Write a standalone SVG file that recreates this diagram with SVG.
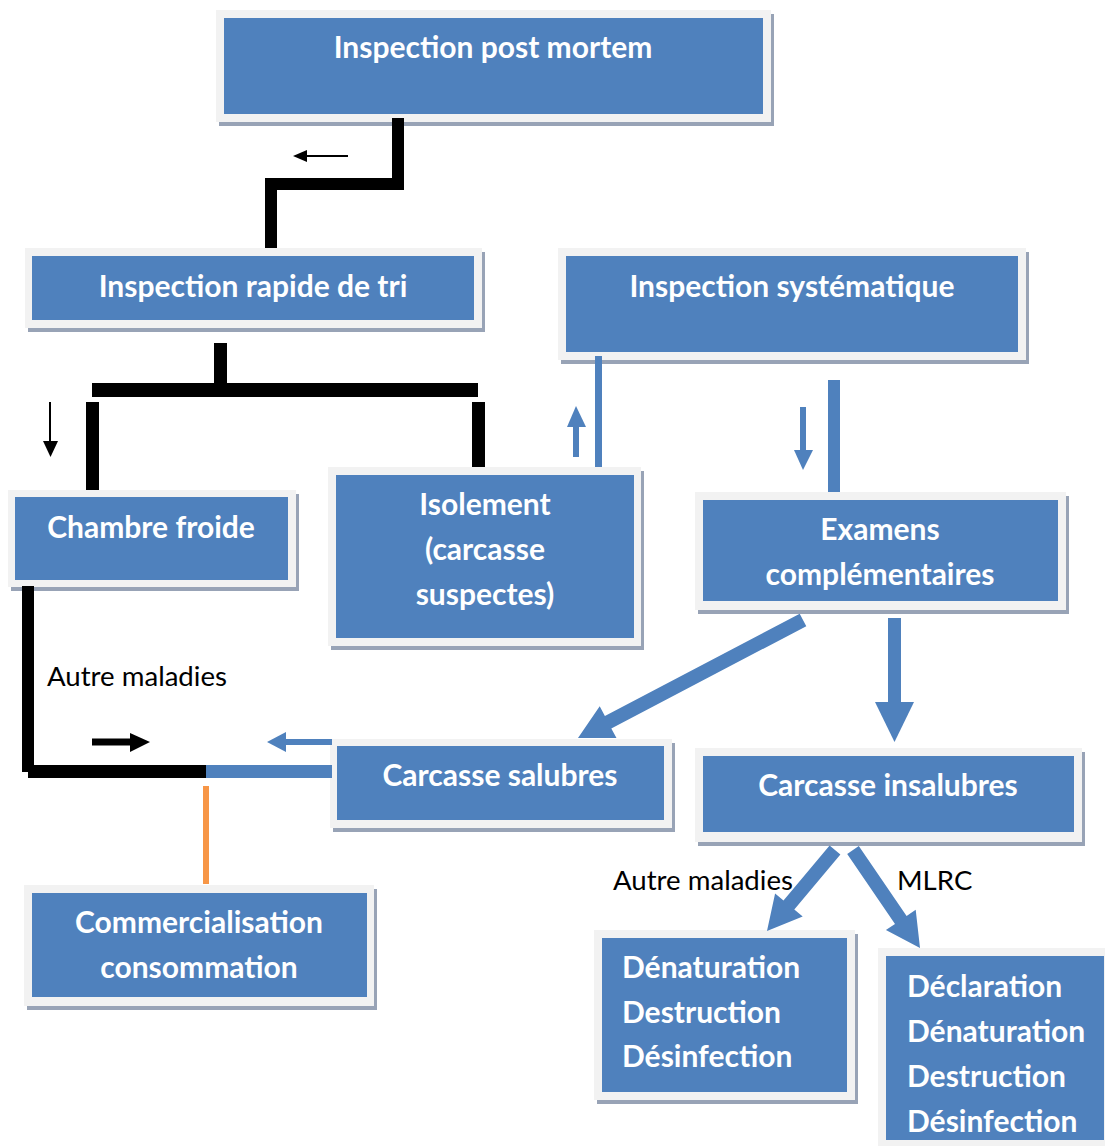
<svg xmlns="http://www.w3.org/2000/svg" width="1105" height="1146" viewBox="0 0 1105 1146">
<style>
.sh{fill:#98a3b6}
.fr{fill:#f2f2f2}
.in{fill:#4f81bd}
.t{font-family:Lato,"Liberation Sans",sans-serif;font-weight:bold;font-size:30px;fill:#ffffff}
.c{text-anchor:middle}
.lb{font-family:Lato,"Liberation Sans",sans-serif;font-size:27.6px;fill:#000000}
.k{fill:#000000}
.b{fill:#4f81bd}
</style>
<rect width="1105" height="1146" fill="#ffffff"/>
<g id="n1">
<rect class="sh" x="219" y="14" width="555" height="112"/>
<rect class="fr" x="216" y="10" width="555" height="112"/>
<rect class="in" x="224" y="18" width="539" height="96"/>
<text class="t c" x="493" y="58">Inspection post mortem</text>
</g>
<g id="n2">
<rect class="sh" x="28" y="252" width="457" height="80"/>
<rect class="fr" x="25" y="248" width="457" height="80"/>
<rect class="in" x="32" y="256" width="442" height="64"/>
<text class="t c" x="253" y="297">Inspection rapide de tri</text>
</g>
<g id="n3">
<rect class="sh" x="561" y="252" width="468" height="112"/>
<rect class="fr" x="558" y="248" width="468" height="112"/>
<rect class="in" x="566" y="256" width="452" height="96"/>
<text class="t c" x="792" y="297">Inspection systématique</text>
</g>
<g id="n4">
<rect class="sh" x="11" y="494" width="288" height="97"/>
<rect class="fr" x="8" y="490" width="288" height="97"/>
<rect class="in" x="15" y="497" width="273" height="83"/>
<text class="t c" x="151" y="538">Chambre froide</text>
</g>
<g id="n5">
<rect class="sh" x="331" y="471" width="313" height="179"/>
<rect class="fr" x="328" y="467" width="313" height="179"/>
<rect class="in" x="336" y="475" width="298" height="163"/>
<text class="t c" x="485" y="515">Isolement</text>
<text class="t c" x="485" y="560">(carcasse</text>
<text class="t c" x="485" y="605">suspectes)</text>
</g>
<g id="n6">
<rect class="sh" x="698" y="496" width="371" height="118"/>
<rect class="fr" x="695" y="492" width="371" height="118"/>
<rect class="in" x="703" y="500" width="355" height="101"/>
<text class="t c" x="880" y="540">Examens</text>
<text class="t c" x="880" y="585">complémentaires</text>
</g>
<g id="n7">
<rect class="sh" x="333" y="743" width="342" height="89"/>
<rect class="fr" x="330" y="739" width="342" height="89"/>
<rect class="in" x="337" y="746" width="327" height="74"/>
<text class="t c" x="500" y="786">Carcasse salubres</text>
</g>
<g id="n8">
<rect class="sh" x="698" y="752" width="387" height="94"/>
<rect class="fr" x="695" y="748" width="387" height="94"/>
<rect class="in" x="703" y="756" width="371" height="76"/>
<text class="t c" x="888" y="796">Carcasse insalubres</text>
</g>
<g id="n9">
<rect class="sh" x="27" y="889" width="350" height="121"/>
<rect class="fr" x="24" y="885" width="350" height="121"/>
<rect class="in" x="32" y="893" width="335" height="104"/>
<text class="t c" x="199" y="933">Commercialisation</text>
<text class="t c" x="199" y="978">consommation</text>
</g>
<g id="n10">
<rect class="sh" x="597" y="934" width="261" height="170"/>
<rect class="fr" x="594" y="930" width="261" height="170"/>
<rect class="in" x="602" y="938" width="245" height="154"/>
<text class="t" x="622" y="978">Dénaturation</text>
<text class="t" x="622" y="1023">Destruction</text>
<text class="t" x="622" y="1067">Désinfection</text>
</g>
<g id="n11">
<rect class="fr" x="878" y="948" width="227" height="198"/>
<rect class="in" x="886" y="956" width="218" height="184"/>
<text class="t" x="907" y="997">Déclaration</text>
<text class="t" x="907" y="1042">Dénaturation</text>
<text class="t" x="907" y="1087">Destruction</text>
<text class="t" x="907" y="1132">Désinfection</text>
</g>
<g id="connectors">
<rect class="k" x="392" y="118" width="12" height="72"/>
<rect class="k" x="265" y="178" width="139" height="12"/>
<rect class="k" x="265" y="178" width="12" height="70"/>
<rect class="k" x="305" y="155" width="43" height="2"/>
<polygon class="k" points="293,156 307,150 307,162"/>
<rect class="k" x="214" y="343" width="13" height="41"/>
<rect class="k" x="92" y="383" width="386" height="14"/>
<rect class="k" x="86" y="402" width="13" height="88"/>
<rect class="k" x="472" y="402" width="13" height="65"/>
<rect class="k" x="49" y="402" width="2" height="41"/>
<polygon class="k" points="43,441 58,441 50.5,457"/>
<rect class="b" x="595" y="356" width="7" height="111"/>
<rect class="b" x="573" y="426" width="6" height="31"/>
<polygon class="b" points="567,427 586,427 576,406"/>
<rect class="b" x="828" y="380" width="12" height="112"/>
<rect class="b" x="800" y="407" width="6" height="44"/>
<polygon class="b" points="794,450 813,450 803,470"/>
<rect class="k" x="22" y="586" width="12" height="186"/>
<rect class="k" x="28" y="765" width="178" height="13"/>
<rect class="b" x="206" y="765" width="126" height="13"/>
<rect class="k" x="92" y="738.5" width="40" height="7"/>
<polygon class="k" points="130,733 130,752 150,742"/>
<rect class="b" x="284" y="739" width="48" height="6"/>
<polygon class="b" points="286,732 286,752 267,742"/>
<rect x="203" y="786" width="6" height="98" fill="#f79646"/>
<polygon class="b" points="806.3,626.2 611.3,728.4 616.5,738.1 578,738 599.7,706.3 604.9,716.0 799.7,613.8"/>
<rect class="b" x="888" y="618" width="13" height="85"/>
<polygon class="b" points="875,702 914,702 894.5,742"/>
<polygon class="b" points="840.4,854.5 794.3,909.5 802.7,916.6 767,931 775.1,893.4 783.5,900.5 829.6,845.5"/>
<polygon class="b" points="847.2,854.0 895.0,923.9 885.9,930.1 920,948 915.7,909.7 906.6,915.9 858.8,846.0"/>
</g>
<text class="lb" x="47" y="686">Autre maladies</text>
<text class="lb" x="613" y="890">Autre maladies</text>
<text class="lb" x="897" y="890">MLRC</text>
</svg>
